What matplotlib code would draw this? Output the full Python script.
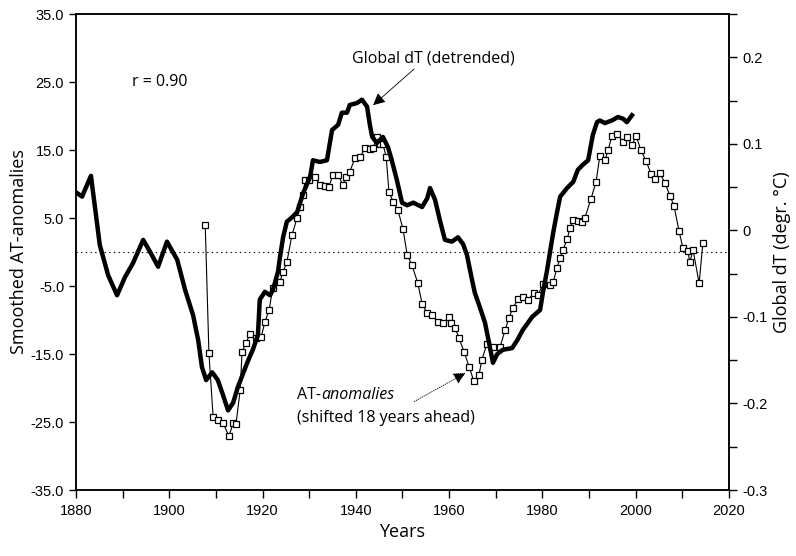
import matplotlib
matplotlib.use("Agg")
import matplotlib.pyplot as plt
from matplotlib.ticker import MultipleLocator, FixedLocator, FixedFormatter

# global dT (detrended), degr. C, right axis
dt_years = [1880.0, 1881.3, 1883.2, 1885.1, 1886.9, 1888.8, 1890.5, 1892.2, 1894.4, 1895.9,
            1897.6, 1899.5, 1901.7, 1903.4, 1905.1, 1906.2, 1907.0, 1907.9, 1909.2, 1910.4,
            1911.5, 1912.6, 1913.7, 1914.7, 1916.7, 1917.9, 1919.0, 1919.4, 1920.5, 1921.6,
            1922.2, 1923.3, 1923.7, 1924.4, 1925.2, 1926.3, 1927.4, 1928.7, 1930.2, 1930.8,
            1932.3, 1933.8, 1934.9, 1936.2, 1937.0, 1938.1, 1938.7, 1940.2, 1941.3, 1942.4,
            1943.0, 1943.5, 1944.5, 1945.8, 1946.9, 1947.7, 1948.8, 1949.9, 1951.0, 1952.3,
            1954.2, 1955.3, 1955.9, 1957.0, 1958.0, 1959.1, 1960.6, 1961.9, 1963.0, 1963.8,
            1964.9, 1965.5, 1966.6, 1967.7, 1968.3, 1969.4, 1970.3, 1971.5, 1973.5, 1974.6,
            1975.8, 1977.8, 1979.5, 1980.1, 1981.0, 1981.6, 1982.3, 1983.1, 1983.8, 1985.3,
            1986.6, 1987.6, 1988.7, 1989.8, 1990.8, 1991.7, 1992.3, 1993.4, 1994.9, 1996.2,
            1997.3, 1998.1, 1999.2]
dt_vals = [0.044, 0.039, 0.063, -0.017, -0.052, -0.075, -0.054, -0.038, -0.011, -0.025,
           -0.042, -0.013, -0.034, -0.069, -0.098, -0.127, -0.158, -0.173, -0.164, -0.173,
           -0.190, -0.208, -0.199, -0.181, -0.153, -0.138, -0.121, -0.080, -0.071, -0.075,
           -0.069, -0.048, -0.032, -0.008, 0.010, 0.015, 0.021, 0.043, 0.062, 0.081,
           0.079, 0.081, 0.116, 0.122, 0.136, 0.136, 0.145, 0.147, 0.151, 0.143,
           0.122, 0.108, 0.101, 0.108, 0.096, 0.081, 0.058, 0.032, 0.029, 0.032,
           0.027, 0.037, 0.049, 0.035, 0.012, -0.011, -0.013, -0.008, -0.016, -0.028,
           -0.057, -0.072, -0.089, -0.107, -0.123, -0.153, -0.143, -0.138, -0.136, -0.127,
           -0.115, -0.100, -0.092, -0.072, -0.046, -0.026, -0.003, 0.020, 0.039, 0.049,
           0.056, 0.070, 0.076, 0.081, 0.110, 0.125, 0.127, 0.124, 0.127, 0.131,
           0.129, 0.125, 0.133]

# AT-anomalies shifted 18 years ahead, left axis
at_years = [1907.7, 1908.5, 1909.4, 1910.4, 1911.5, 1912.8, 1913.7, 1914.3, 1915.2, 1915.6,
            1916.4, 1917.3, 1918.6, 1919.7, 1920.5, 1921.4, 1922.2, 1923.7, 1924.4, 1925.2,
            1926.3, 1927.4, 1928.0, 1928.7, 1929.1, 1930.0, 1931.2, 1932.3, 1933.4, 1934.2,
            1935.1, 1936.2, 1937.2, 1937.9, 1938.7, 1939.8, 1940.9, 1942.0, 1943.0, 1943.7,
            1944.5, 1945.2, 1945.8, 1946.5, 1947.1, 1948.0, 1949.0, 1950.1, 1951.0, 1952.0,
            1953.3, 1954.2, 1955.3, 1956.3, 1957.6, 1958.7, 1960.0, 1960.4, 1961.3, 1962.1,
            1963.2, 1964.3, 1965.3, 1966.4, 1967.0, 1968.1, 1969.4, 1970.9, 1972.0, 1972.8,
            1973.7, 1974.8, 1975.8, 1976.9, 1978.2, 1979.1, 1980.1, 1981.6, 1982.3, 1983.1,
            1983.8, 1984.4, 1985.3, 1985.9, 1986.6, 1987.6, 1988.5, 1989.1, 1990.4, 1991.5,
            1992.3, 1993.4, 1994.1, 1994.9, 1996.0, 1997.3, 1998.1, 1999.2, 2000.1, 2001.1,
            2002.2, 2003.3, 2004.1, 2005.2, 2006.3, 2007.4, 2008.2, 2009.3, 2010.1, 2011.2,
            2011.6, 2012.3, 2013.6, 2014.4]
at_vals = [4.0, -14.9, -24.3, -24.7, -25.1, -27.1, -25.1, -25.3, -20.3, -14.7,
           -13.4, -12.1, -12.6, -12.5, -10.3, -8.5, -5.3, -4.4, -2.9, -1.5,
           2.5, 5.0, 6.6, 8.4, 10.6, 10.6, 11.0, 9.9, 9.7, 9.6,
           11.3, 11.3, 9.9, 11.0, 11.8, 13.8, 14.0, 15.3, 15.1, 15.3,
           16.9, 15.9, 15.9, 14.0, 8.8, 7.4, 6.2, 3.4, -0.4, -1.9,
           -4.6, -7.6, -9.0, -9.3, -10.3, -10.4, -9.6, -10.4, -11.2, -12.6,
           -14.7, -16.9, -19.0, -18.1, -15.9, -13.5, -14.0, -14.0, -11.5, -9.7,
           -8.2, -6.9, -6.6, -7.1, -6.0, -6.3, -4.7, -4.9, -4.4, -2.4,
           -0.9, 0.3, 1.9, 3.5, 4.7, 4.6, 4.4, 5.0, 7.8, 10.3,
           14.1, 13.5, 15.0, 17.1, 17.4, 16.2, 16.9, 15.7, 17.1, 15.0,
           13.4, 11.5, 10.7, 11.6, 10.1, 8.2, 6.8, 3.1, 0.6, 0.1,
           -1.5, 0.3, -4.6, 1.3]

left_ticks = [35, 25, 15, 5, -5, -15, -25, -35]
left_labels = ["35.0", "25.0", "15.0", "5.0", "-5.0", "-15.0", "-25.0", "-35.0"]
right_ticks = [0.2, 0.1, 0, -0.1, -0.2, -0.3]
right_labels = ["0.2", "0.1", "0", "-0.1", "-0.2", "-0.3"]

plt.rcParams['font.family'] = ['Liberation Sans', 'DejaVu Sans']
label_font = ['Open Sans', 'DejaVu Sans']

fig = plt.figure(figsize=(7.96, 5.56), dpi=100)
ax = fig.add_axes([0.0955, 0.1187, 0.8203, 0.8561])
ax2 = ax.twinx()

ax.axhline(0, color='black', lw=0.8, ls=(0, (1.2, 3)))

ax.plot(at_years, at_vals, color='black', lw=0.8, marker='s', ms=5,
        mfc='white', mec='black', mew=0.9, zorder=3)
ax2.plot(dt_years, dt_vals, color='black', lw=3.2, solid_joinstyle='round', zorder=4)

ax.set_xlim(1880, 2020)
ax.set_ylim(-35, 35)
ax2.set_ylim(-0.3, 0.25)

ax.xaxis.set_major_locator(MultipleLocator(20))
ax.xaxis.set_minor_locator(MultipleLocator(10))
ax.yaxis.set_major_locator(FixedLocator(left_ticks))
ax.yaxis.set_major_formatter(FixedFormatter(left_labels))
ax2.yaxis.set_major_locator(FixedLocator(right_ticks))
ax2.yaxis.set_major_formatter(FixedFormatter(right_labels))
ax2.yaxis.set_minor_locator(MultipleLocator(0.05))

ax.tick_params(axis='both', which='both', direction='out', length=5, width=1, labelsize=10.5)
ax.tick_params(axis='x', which='both', length=6, pad=4)
ax2.tick_params(axis='y', which='both', direction='out', length=6, width=1, labelsize=10.5)

for a in (ax, ax2):
    for s in a.spines.values():
        s.set_linewidth(1.1)

ax.set_xlabel("Years", fontsize=13, family=label_font, labelpad=4)
ax.set_ylabel("Smoothed AT-anomalies", fontsize=13, family=label_font, labelpad=2)
ax2.set_ylabel("Global dT (degr. \u00b0C)", fontsize=13, family=label_font, labelpad=4)

ax.text(1892, 25, "r = 0.90", fontsize=11.5, va='center', family=label_font)

ax.annotate("Global dT (detrended)", xy=(1943.7, 21.6), xytext=(1939.2, 28.5),
            fontsize=11.5, va='center', family=label_font,
            arrowprops=dict(arrowstyle='-|>', color='black', lw=0.6,
                            mutation_scale=18, shrinkA=0, shrinkB=0,
                            relpos=(0.4, 0.0)))

t1 = ax.text(1927.4, -21.0, "AT-", fontsize=11.5, va='center', family=label_font)
ax.annotate("anomalies", xy=(1.0, 0.5), xycoords=t1, va='center', ha='left',
            fontsize=11.5, style='italic', family=label_font)
ax.text(1927.4, -24.4, "(shifted 18 years ahead)", fontsize=11.5, va='center',
        family=label_font)
ax.annotate("", xy=(1963.5, -17.8), xytext=(1952.5, -22.0),
            arrowprops=dict(arrowstyle='-|>', color='black', lw=0.6, ls=':',
                            mutation_scale=18, shrinkA=0, shrinkB=0))

fig.savefig("out.png", dpi=100)
